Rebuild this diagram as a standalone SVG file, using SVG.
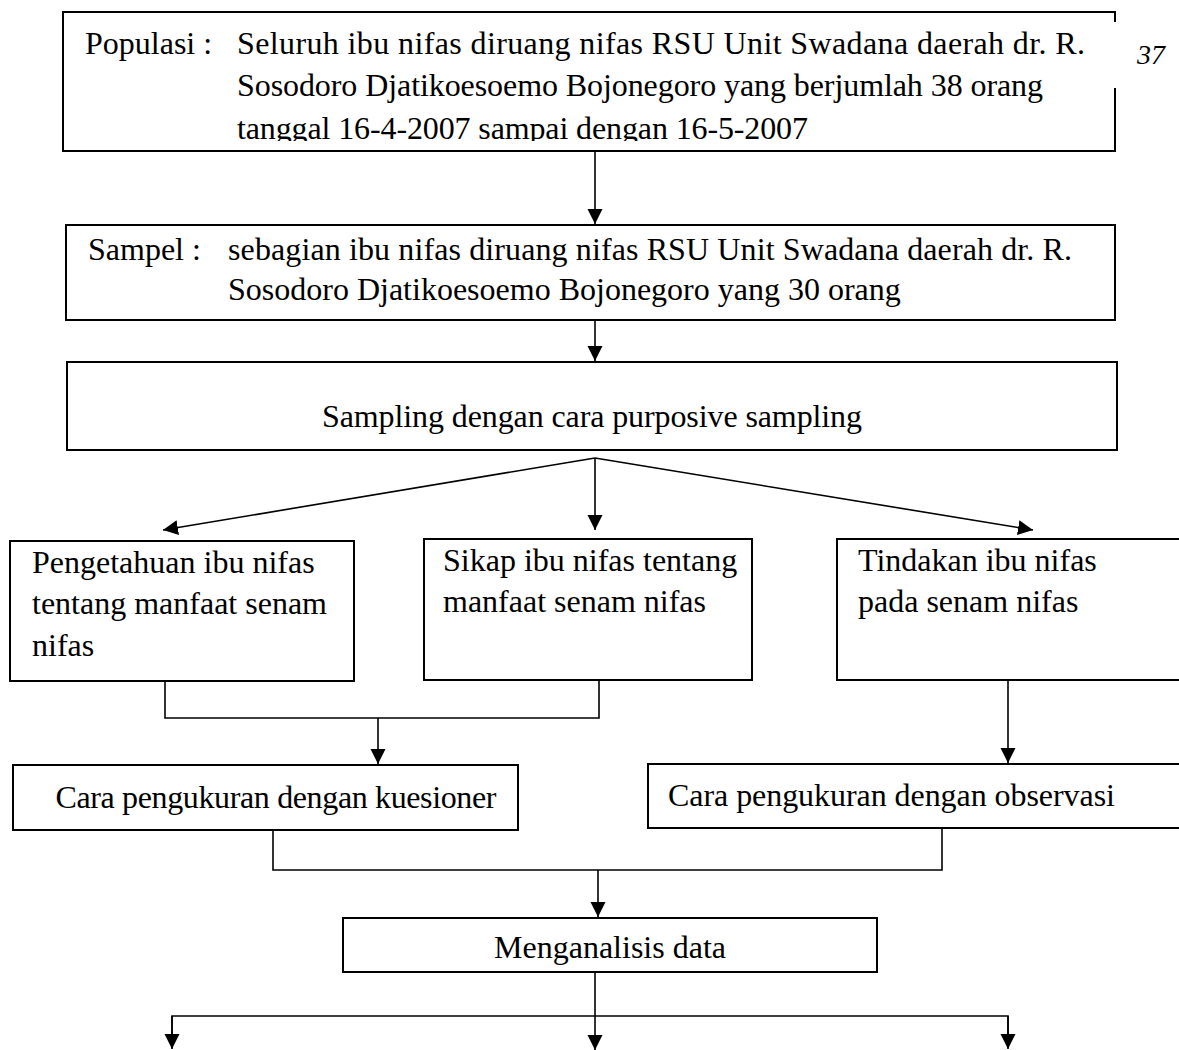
<svg xmlns="http://www.w3.org/2000/svg" width="1179" height="1050" viewBox="0 0 1179 1050">
<defs>
<marker id="ah" markerUnits="userSpaceOnUse" markerWidth="15" markerHeight="16" refX="15" refY="7.5" orient="auto">
<path d="M0,0 L15,7.5 L0,15 Z" fill="#000"/>
</marker>
<clipPath id="c1"><rect x="63" y="12" width="1052" height="129"/></clipPath>
<style>
.b{fill:#fff;stroke:#000;stroke-width:2}
.t{font-family:"Liberation Serif","Times New Roman",serif;font-size:32px;fill:#000}
.l{fill:none;stroke:#000;stroke-width:1.6}
.a{fill:none;stroke:#000;stroke-width:1.6;marker-end:url(#ah)}
</style>
</defs>
<rect width="1179" height="1050" fill="#fff"/>
<g id="connectors">
<line class="a" x1="595" y1="151" x2="595" y2="224"/>
<line class="a" x1="595" y1="320" x2="595" y2="361"/>
<line class="a" x1="595" y1="458" x2="163" y2="530"/>
<line class="a" x1="595" y1="458" x2="595" y2="530"/>
<line class="a" x1="595" y1="458" x2="1033" y2="530"/>
<polyline class="l" points="165,681 165,718 599,718 599,680"/>
<line class="a" x1="378" y1="718" x2="378" y2="764"/>
<line class="a" x1="1008" y1="680" x2="1008" y2="763"/>
<polyline class="l" points="273,830 273,870 942,870 942,828"/>
<line class="a" x1="598" y1="870" x2="598" y2="917"/>
<line class="a" x1="595" y1="972" x2="595" y2="1050"/>
<polyline class="l" points="172,1048 172,1016 1008,1016 1008,1048"/>
<line class="a" x1="172" y1="1016" x2="172" y2="1049"/>
<line class="a" x1="1008" y1="1016" x2="1008" y2="1049"/>
</g>
<g id="populasi">
<path d="M1115,22 L1115,12 L63,12 L63,151 L1115,151 L1115,88" fill="#fff" stroke="#000" stroke-width="2"/>
<g clip-path="url(#c1)">
<text class="t" x="85" y="54">Populasi :</text>
<text class="t" x="237" y="54" textLength="848" lengthAdjust="spacing">Seluruh ibu nifas diruang nifas RSU Unit Swadana daerah dr. R.</text>
<text class="t" x="237" y="96" textLength="806" lengthAdjust="spacing">Sosodoro Djatikoesoemo Bojonegoro yang berjumlah 38 orang</text>
<text class="t" x="237" y="139" textLength="571" lengthAdjust="spacing">tanggal 16-4-2007 sampai dengan 16-5-2007</text>
</g>
</g>
<text x="1137" y="64" font-family="'Liberation Serif',serif" font-style="italic" font-size="28">37</text>
<g id="sampel">
<rect class="b" x="66" y="225" width="1049" height="95"/>
<text class="t" x="88" y="260">Sampel :</text>
<text class="t" x="228" y="260" textLength="844" lengthAdjust="spacing">sebagian ibu nifas diruang nifas RSU Unit Swadana daerah dr. R.</text>
<text class="t" x="228" y="300">Sosodoro Djatikoesoemo Bojonegoro yang 30 orang</text>
</g>
<g id="sampling">
<rect class="b" x="67" y="362" width="1050" height="88"/>
<text class="t" x="592" y="427" text-anchor="middle" textLength="540" lengthAdjust="spacing">Sampling dengan cara purposive sampling</text>
</g>
<g id="pengetahuan">
<rect class="b" x="10" y="541" width="344" height="140"/>
<text class="t" x="32" y="573">Pengetahuan ibu nifas</text>
<text class="t" x="32" y="614">tentang manfaat senam</text>
<text class="t" x="32" y="656">nifas</text>
</g>
<g id="sikap">
<rect class="b" x="424" y="539" width="328" height="141"/>
<text class="t" x="443" y="571">Sikap ibu nifas tentang</text>
<text class="t" x="443" y="612">manfaat senam nifas</text>
</g>
<g id="tindakan">
<rect class="b" x="837" y="539" width="360" height="141"/>
<text class="t" x="858" y="571">Tindakan ibu nifas</text>
<text class="t" x="858" y="612">pada senam nifas</text>
</g>
<g id="kuesioner">
<rect class="b" x="13" y="765" width="505" height="65"/>
<text class="t" x="276" y="808" text-anchor="middle" textLength="441" lengthAdjust="spacing">Cara pengukuran dengan kuesioner</text>
</g>
<g id="observasi">
<rect class="b" x="648" y="764" width="550" height="64"/>
<text class="t" x="668" y="806" textLength="447" lengthAdjust="spacing">Cara pengukuran dengan observasi</text>
</g>
<g id="analisis">
<rect class="b" x="343" y="918" width="534" height="54"/>
<text class="t" x="610" y="958" text-anchor="middle">Menganalisis data</text>
</g>
</svg>
